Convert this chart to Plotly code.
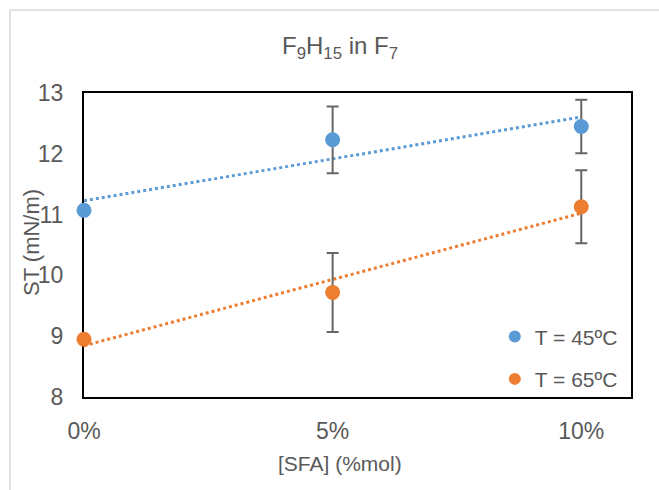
import numpy as np
import plotly.graph_objects as go

# Data
x_vals = [0.0, 0.05, 0.10]
x_ticks = ["0%", "5%", "10%"]
st_45 = [11.07, 12.23, 12.45]
err_45 = [0.0, 0.55, 0.44]
st_65 = [8.95, 9.72, 11.13]
err_65 = [0.0, 0.65, 0.60]
names = ["T = 45ºC", "T = 65ºC"]
colors = ["#5B9BD5", "#ED7D31"]

FONT = "Liberation Sans, Arial, sans-serif"
TXT = "#595959"

fig = go.Figure()

# Trendlines (linear fits)
for ys, c in [(st_45, colors[0]), (st_65, colors[1])]:
    m, b = np.polyfit(x_vals, ys, 1)
    xt = [x_vals[0], x_vals[-1]]
    fig.add_trace(go.Scatter(
        x=xt, y=[m * xx + b for xx in xt], mode="lines",
        line=dict(color=c, width=3, dash="dot"),
        showlegend=False, hoverinfo="skip"))

for ys, es, c, n, g in [(st_45, err_45, colors[0], names[0], "a"),
                         (st_65, err_65, colors[1], names[1], "b")]:
    fig.add_trace(go.Scatter(
        x=x_vals, y=ys, mode="markers", name=n, legendgroup=g,
        marker=dict(color=c, size=15), cliponaxis=False,
        error_y=dict(type="data", array=es, visible=True,
                     color="#666666", thickness=2, width=6)))

fig.update_layout(
    width=659, height=490,
    margin=dict(l=84, r=28, t=93, b=93),
    paper_bgcolor="white", plot_bgcolor="white",
    font=dict(family=FONT, color=TXT, size=18),
    title=dict(text="F<sub>9</sub>H<sub>15</sub> in F<sub>7</sub>",
               x=340 / 659, xanchor="center", xref="container",
               y=1 - 46 / 490, yanchor="middle", yref="container",
               font=dict(family=FONT, size=24, color=TXT)),
    xaxis=dict(range=[0, 0.11], tickvals=x_vals, ticktext=x_ticks,
               showgrid=False, zeroline=False, showline=True,
               linecolor="black", linewidth=2, mirror=True,
               ticks="", ticklabelstandoff=12, layer="below traces",
               tickfont=dict(size=23, color=TXT)),
    yaxis=dict(range=[8, 13], dtick=1,
               showgrid=False, zeroline=False, showline=True,
               linecolor="black", linewidth=2, mirror=True,
               ticks="", ticklabelstandoff=14, layer="below traces",
               tickfont=dict(size=23, color=TXT)),
    legend=dict(x=0.985, y=-0.008, xanchor="right", yanchor="bottom",
                bgcolor="rgba(0,0,0,0)", font=dict(size=21, color=TXT),
                tracegroupgap=12, itemwidth=30, itemsizing="constant"),
    showlegend=True,
    annotations=[
        dict(text="[SFA] (%mol)", xref="paper", yref="paper",
             x=(340 - 84) / 547, y=(397 - 463) / 304,
             xanchor="center", yanchor="middle", showarrow=False,
             font=dict(size=21, color=TXT)),
        dict(text="ST (mN/m)", xref="paper", yref="paper",
             x=(31 - 84) / 547, y=(397 - 243) / 304, textangle=-90,
             xanchor="center", yanchor="middle", showarrow=False,
             font=dict(size=22, color=TXT)),
    ],
)

# outer chart area border (light gray)
fig.add_shape(type="line", xref="paper", yref="paper",
              x0=(10 - 84) / 547, x1=(10 - 84) / 547,
              y0=(397 - 500) / 304, y1=(397 - 10) / 304,
              line=dict(color="#D9D9D9", width=1.5))
fig.add_shape(type="line", xref="paper", yref="paper",
              x0=(10 - 84) / 547, x1=(700 - 84) / 547,
              y0=(397 - 10) / 304, y1=(397 - 10) / 304,
              line=dict(color="#D9D9D9", width=1.5))

fig.write_html("out.html")
